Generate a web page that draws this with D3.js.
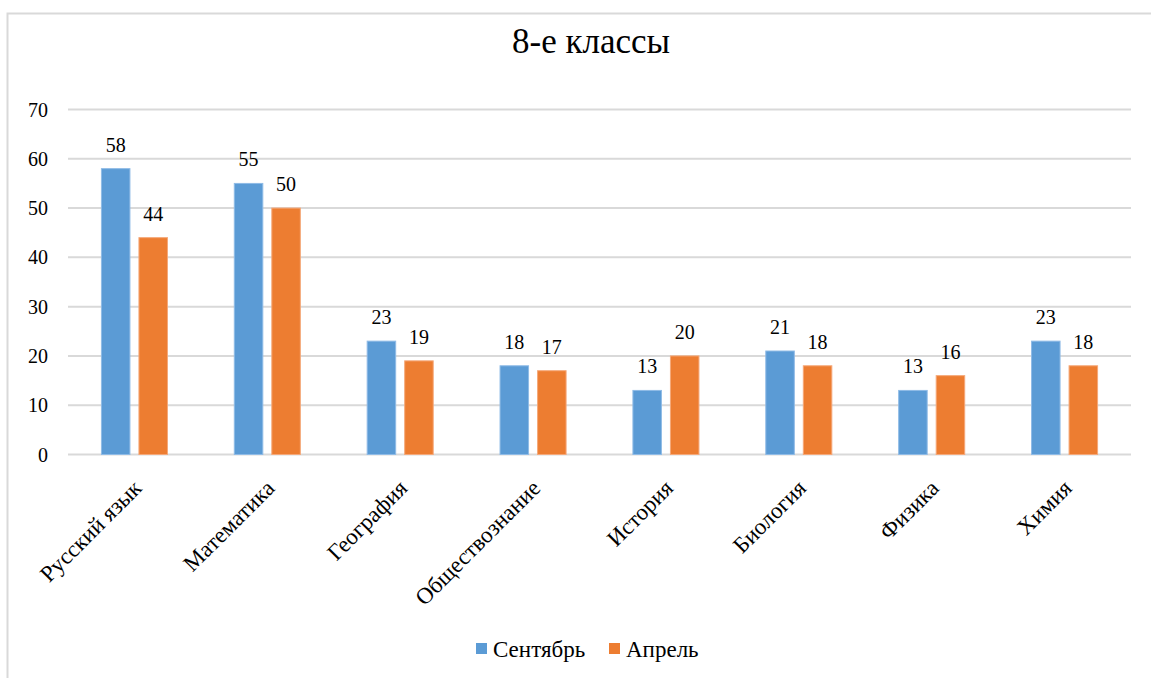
<!DOCTYPE html>
<html>
<head>
<meta charset="utf-8">
<script src="https://cdn.jsdelivr.net/npm/d3@7"></script>
<style>
  body { margin: 0; background: #fff; }
</style>
</head>
<body>
<script>
const categories = ['Русский язык', 'Математика', 'География', 'Обществознание', 'История', 'Биология', 'Физика', 'Химия'];
const seriesNames = ['Сентябрь', 'Апрель'];
const september = [58, 55, 23, 18, 13, 21, 13, 23];
const april = [44, 50, 19, 17, 20, 18, 16, 18];
const yTicks = [0, 10, 20, 30, 40, 50, 60, 70];
const colors = ['#5b9bd5', '#ed7d31'];

const width = 1151, height = 678;
const margin = { left: 68, right: 20, top: 109.5, bottom: 223.5 };

const svg = d3.select('body').append('svg')
    .attr('width', width)
    .attr('height', height)
    .attr('font-family', 'Liberation Serif, Times New Roman, serif');

// chart frame
svg.append('rect')
    .attr('x', 7.5).attr('y', 13.5)
    .attr('width', width + 10).attr('height', height + 10)
    .attr('fill', 'none')
    .attr('stroke', '#d9d9d9')
    .attr('stroke-width', 2);

const x = d3.scaleBand()
    .domain(categories)
    .range([margin.left, 1131])
    .paddingInner(0.503)
    .paddingOuter(0.2515);

const xs = d3.scaleBand()
    .domain(seriesNames)
    .range([0, x.bandwidth()])
    .paddingInner(0.24);

const y = d3.scaleLinear()
    .domain([0, 70])
    .range([454.5, 109.5]);

// gridlines
svg.append('g')
    .selectAll('line')
    .data(yTicks)
    .join('line')
    .attr('x1', margin.left)
    .attr('x2', 1131)
    .attr('y1', d => y(d))
    .attr('y2', d => y(d))
    .attr('stroke', '#d9d9d9')
    .attr('stroke-width', 2);

// y axis labels
svg.append('g')
    .selectAll('text')
    .data(yTicks)
    .join('text')
    .attr('x', 48)
    .attr('y', d => y(d))
    .attr('dy', '0.35em')
    .attr('text-anchor', 'end')
    .attr('font-size', 20)
    .text(d => d);

const rows = categories.map((c, i) => ({ cat: c, values: [september[i], april[i]] }));

const groups = svg.append('g')
    .selectAll('g')
    .data(rows)
    .join('g')
    .attr('transform', d => `translate(${x(d.cat)},0)`);

groups.selectAll('rect')
    .data(d => d.values.map((v, j) => ({ v: v, s: seriesNames[j], j: j })))
    .join('rect')
    .attr('x', d => xs(d.s))
    .attr('width', xs.bandwidth())
    .attr('y', d => y(d.v))
    .attr('height', d => y(0) - y(d.v))
    .attr('fill', d => colors[d.j])
    .attr('stroke', d => d.j === 0 ? '#8fbbe6' : '#f5a879')
    .attr('stroke-width', 1);

groups.selectAll('text')
    .data(d => d.values.map((v, j) => ({ v: v, s: seriesNames[j] })))
    .join('text')
    .attr('x', d => xs(d.s) + xs.bandwidth() / 2)
    .attr('y', d => y(d.v) - 17)
    .attr('text-anchor', 'middle')
    .attr('font-size', 20)
    .text(d => d.v);

// category labels
svg.append('g')
    .selectAll('text')
    .data(categories)
    .join('text')
    .attr('transform', d => `translate(${x(d) + x.bandwidth() / 2 - 3},478) rotate(-45)`)
    .attr('dy', '0.71em')
    .attr('text-anchor', 'end')
    .attr('font-size', 23)
    .text(d => d);

// title
svg.append('text')
    .attr('x', 591)
    .attr('y', 53)
    .attr('text-anchor', 'middle')
    .attr('font-size', 35)
    .text('8-е классы');

// legend
const legendX = [476, 609];
const legend = svg.append('g')
    .selectAll('g')
    .data(seriesNames)
    .join('g')
    .attr('transform', (d, i) => `translate(${legendX[i]},643)`);

legend.append('rect')
    .attr('width', 11)
    .attr('height', 11)
    .attr('fill', (d, i) => colors[i]);

legend.append('text')
    .attr('x', 17)
    .attr('y', 14)
    .attr('font-size', 23)
    .text(d => d);
</script>
</body>
</html>
